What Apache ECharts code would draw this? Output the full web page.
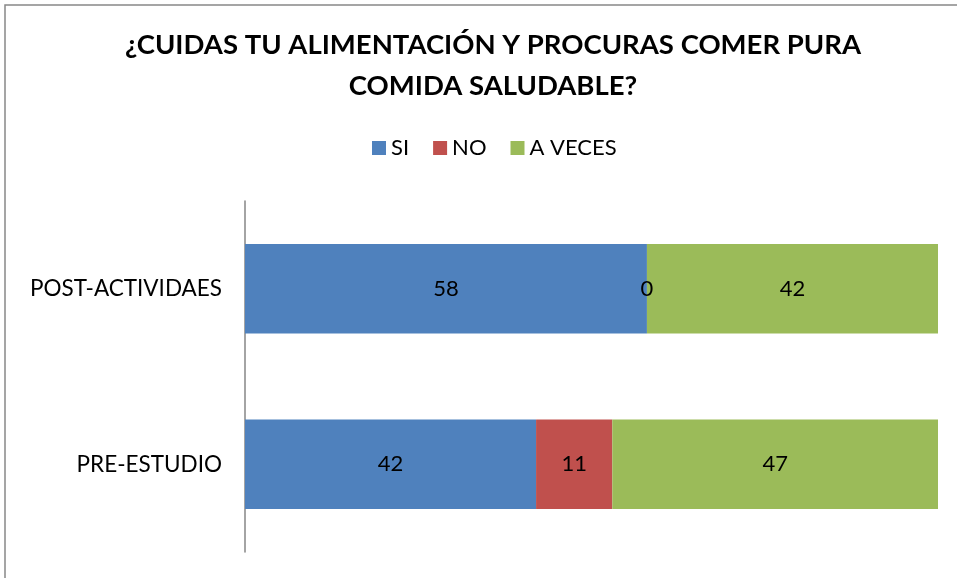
<!DOCTYPE html>
<html>
<head>
<meta charset="utf-8">
<script src="https://cdn.jsdelivr.net/npm/echarts@6/dist/echarts.min.js"></script>
<style>
  html, body { margin: 0; padding: 0; background: #fff; }
  #chart { width: 957px; height: 578px; }
</style>
</head>
<body>
<div id="chart"></div>
<script>
// datos del gráfico
const categories = ['PRE-ESTUDIO', 'POST-ACTIVIDAES']
const seriesNames = ['SI', 'NO', 'A VECES']
const siValues = [42, 58]
const noValues = [11, 0]
const aVecesValues = [47, 42]
const colors = ['#4F81BD', '#C0504D', '#9BBB59']

const myChart = echarts.init(document.getElementById('chart'))

const font = 'Lato, "Open Sans", sans-serif'

const makeSeries = (name, data, color) => ({
  name,
  type: 'bar',
  stack: 'total',
  data,
  barWidth: '51%',
  itemStyle: { color },
  label: {
    show: true,
    position: 'inside',
    color: '#000',
    fontSize: 22,
    fontFamily: font
  }
})

const option = {
  animation: false,
  backgroundColor: '#fff',
  title: {
    text: '¿CUIDAS TU ALIMENTACIÓN Y PROCURAS COMER PURA\nCOMIDA SALUDABLE?',
    left: 488,
    textAlign: 'center',
    top: 20,
    textStyle: {
      fontFamily: font,
      fontWeight: 'bold',
      fontSize: 27.5,
      lineHeight: 41,
      color: '#000'
    }
  },
  legend: {
    data: seriesNames,
    top: 132,
    left: 367,
    itemWidth: 14,
    itemHeight: 14,
    itemGap: 24,
    icon: 'rect',
    textStyle: { fontSize: 22, fontFamily: font, color: '#000' }
  },
  grid: { left: 245, right: 19, top: 201, bottom: 26 },
  xAxis: {
    type: 'value',
    min: 0,
    max: 100,
    show: false
  },
  yAxis: {
    type: 'category',
    data: categories,
    axisLine: { show: true, lineStyle: { color: '#868686', width: 1.5 } },
    axisTick: { show: false },
    axisLabel: { fontSize: 22.5, fontFamily: font, color: '#000', margin: 23 }
  },
  graphic: [{
    type: 'rect',
    shape: { x: 5, y: 5, width: 1200, height: 1200 },
    style: { fill: 'none', stroke: '#888', lineWidth: 1.5 },
    silent: true
  }],
  series: [
    makeSeries(seriesNames[0], siValues, colors[0]),
    makeSeries(seriesNames[1], noValues, colors[1]),
    makeSeries(seriesNames[2], aVecesValues, colors[2])
  ]
}
option && myChart.setOption(option)
</script>
</body>
</html>
